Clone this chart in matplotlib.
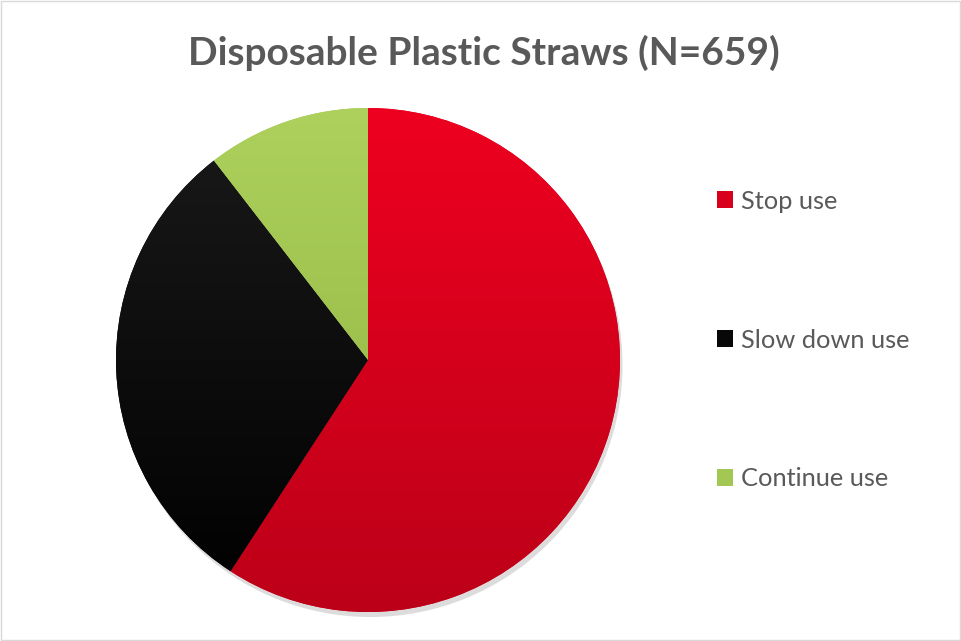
import matplotlib
matplotlib.use("Agg")
import matplotlib.pyplot as plt
import numpy as np
from matplotlib.patches import Rectangle, Patch
from matplotlib.colors import LinearSegmentedColormap

labels = ["Stop use", "Slow down use", "Continue use"]
values = [390, 200, 69]
colors_top = ["#EE0020", "#1A1A1A", "#ADD15C"]
colors_bot = ["#BC0018", "#000000", "#8FB040"]
base_colors = ["#D9001C", "#080808", "#A2C752"]
title = "Disposable Plastic Straws (N=659)"

plt.rcParams['font.family'] = ['Lato', 'DejaVu Sans']

fig = plt.figure(figsize=(9.62, 6.41), dpi=100)
fig.patch.set_facecolor("white")
fig.add_artist(Rectangle((0.001, 0.001), 0.997, 0.997, transform=fig.transFigure,
                         fill=False, edgecolor="#D9D9D9", linewidth=1))

cx, cy, r = 368, 360, 252
W, H = 962, 641
pad = 1.03
ax = fig.add_axes([(cx - r * pad) / W, (H - cy - r * pad) / H, 2 * r * pad / W, 2 * r * pad / H])
ax.set_aspect("equal")
ax.axis("off")

wedges, _ = ax.pie(values, colors=base_colors, startangle=90, counterclock=False,
                   radius=1.0, wedgeprops=dict(linewidth=0))

sh = ax.pie([1], colors=["#bbbbbb"], radius=1.0, center=(0.01, -0.02),
            wedgeprops=dict(linewidth=0, alpha=0.5))[0][0]
sh.set_zorder(0)

for w, ct, cb in zip(wedges, colors_top, colors_bot):
    w.set_zorder(2)
    cmap = LinearSegmentedColormap.from_list("g", [cb, ct])
    grad = np.linspace(0, 1, 256).reshape(-1, 1)
    im = ax.imshow(grad, extent=(-1, 1, -1, 1), origin="lower", cmap=cmap,
                   aspect="auto", zorder=3)
    im.set_clip_path(w)

ax.set_xlim(-pad, pad)
ax.set_ylim(-pad, pad)

fig.text(484 / W, 1 - 53 / H, title, ha="center", va="center",
         fontsize=28, fontweight="bold", color="#595959")

handles = [Patch(facecolor=c, edgecolor="none") for c in base_colors]
leg = fig.legend(handles, labels, loc="center left",
                 bbox_to_anchor=(694 / W, 1 - 340 / H),
                 frameon=False, fontsize=18.3, labelcolor="#595959",
                 labelspacing=4.55, handlelength=0.65, handleheight=0.65,
                 handletextpad=0.3)

fig.savefig("out.png", dpi=100, facecolor="white")
